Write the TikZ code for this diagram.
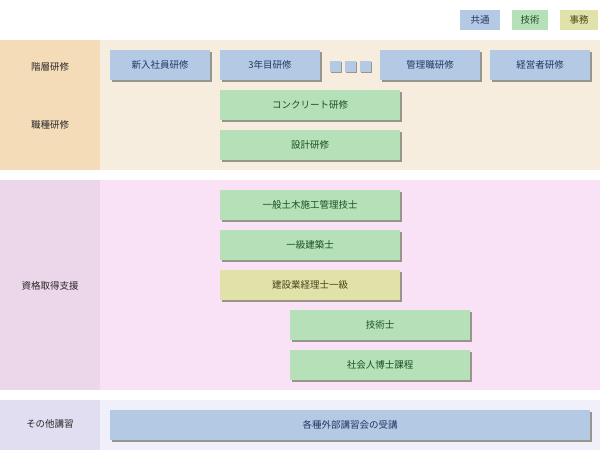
\documentclass[tikz,border=0pt]{standalone}
\usepackage{fontspec}
\setmainfont{Noto Sans CJK JP}
\definecolor{cblu}{RGB}{180,202,228}
\definecolor{tblu}{RGB}{30,55,100}
\definecolor{cgrn}{RGB}{182,224,184}
\definecolor{tgrn}{RGB}{25,80,30}
\definecolor{cyel}{RGB}{224,226,170}
\definecolor{tyel}{RGB}{70,70,20}
\definecolor{csh}{RGB}{150,150,140}
\definecolor{s1a}{RGB}{245,220,185}
\definecolor{s1b}{RGB}{246,237,222}
\definecolor{s2a}{RGB}{236,214,234}
\definecolor{s2b}{RGB}{249,225,246}
\definecolor{s3a}{RGB}{224,222,240}
\definecolor{s3b}{RGB}{240,240,250}
\definecolor{tlab}{RGB}{40,40,40}
\begin{document}
\begin{tikzpicture}[x=1pt,y=-1pt,
 bx/.style={draw=none,minimum height=30pt,inner sep=0pt,font=\fontsize{9.5}{11}\selectfont},
 blu/.style={bx,fill=cblu,text=tblu},
 grn/.style={bx,fill=cgrn,text=tgrn},
 yel/.style={bx,fill=cyel,text=tyel},
 sh/.style={fill=csh},
 lab/.style={font=\fontsize{9.5}{11}\selectfont,text=tlab}]
\useasboundingbox (0,0) rectangle (600,450);
\fill[white] (0,0) rectangle (600,450);
% sections
\fill[s1a] (0,40) rectangle (100,170);
\fill[s1b] (100,40) rectangle (600,170);
\fill[s2a] (0,180) rectangle (100,390);
\fill[s2b] (100,180) rectangle (600,390);
\fill[s3a] (0,400) rectangle (100,450);
\fill[s3b] (100,400) rectangle (600,450);
\node[lab] (l1) at (50,67) {階層研修};
\node[lab] (l2) at (50,125) {職種研修};
\node[lab] (l3) at (50,286) {資格取得支援};
\node[lab] (l4) at (50,424) {その他講習};
% legend
\node[blu,minimum width=40pt,minimum height=20pt] (g1) at (480,20) {共通};
\node[grn,minimum width=36pt,minimum height=20pt] (g2) at (530,20) {技術};
\node[yel,minimum width=38pt,minimum height=20pt] (g3) at (579,20) {事務};
% boxes with shadow
\newcommand{\bbox}[6]{%
 \fill[sh] (#1+2,#2+2) rectangle (#3+2,#2+32);
 \node[#5,minimum width=#3-#1] (#6) at ({(#1+#3)/2},#2+15) {#4};}
\bbox{110}{50}{210}{新入社員研修}{blu}{a1}
\bbox{220}{50}{320}{3年目研修}{blu}{a2}
\bbox{380}{50}{480}{管理職研修}{blu}{a3}
\bbox{490}{50}{590}{経営者研修}{blu}{a4}
\foreach \x in {330,345,360}{
 \fill[sh] (\x+1,62) rectangle (\x+12,73);
 \fill[cblu] (\x,61) rectangle (\x+11,72);}
\bbox{220}{90}{400}{コンクリート研修}{grn}{b1}
\bbox{220}{130}{400}{設計研修}{grn}{b2}
\bbox{220}{190}{400}{一般土木施工管理技士}{grn}{c1}
\bbox{220}{230}{400}{一級建築士}{grn}{c2}
\bbox{220}{270}{400}{建設業経理士一級}{yel}{c3}
\bbox{290}{310}{470}{技術士}{grn}{c4}
\bbox{290}{350}{470}{社会人博士課程}{grn}{c5}
\bbox{110}{410}{590}{各種外部講習会の受講}{blu}{d1}
\end{tikzpicture}
\end{document}
